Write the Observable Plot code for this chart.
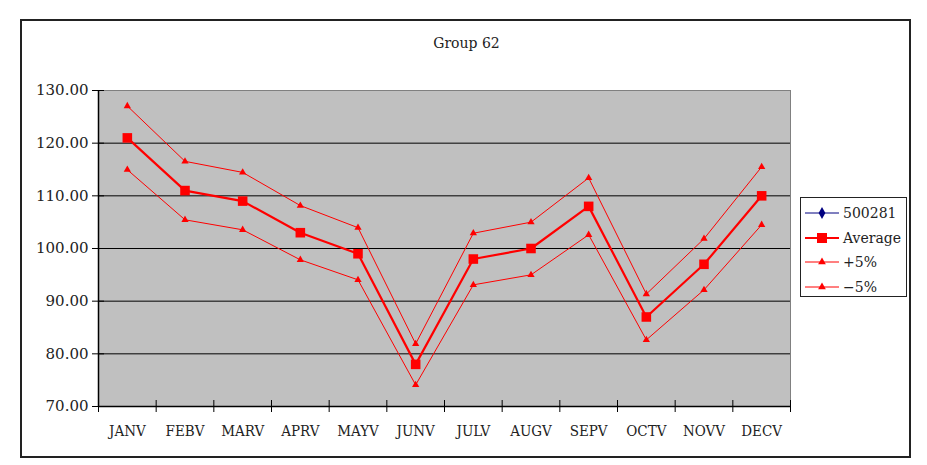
<!DOCTYPE html>
<html>
<head>
<meta charset="utf-8">
<script src="https://cdn.jsdelivr.net/npm/d3@7"></script>
<script src="https://cdn.jsdelivr.net/npm/@observablehq/plot@0.6"></script>
<style>
  body { margin: 0; background: #fff; }
  #wrap { position: relative; width: 927px; height: 465px; overflow: hidden; font-family: "DejaVu Serif", serif; color: #222; }
  #border { position: absolute; left: 20px; top: 19px; width: 887px; height: 435px; border: 2px solid #222; }
  #chart { position: absolute; left: 0; top: 0; }
  #title { position: absolute; left: 21px; width: 891px; top: 35px; text-align: center; font-size: 14px; }
  #legend { position: absolute; left: 800px; top: 197px; width: 105px; height: 98px; border: 1.5px solid #222; background: #fff; }
  .item { position: absolute; left: 4px; height: 20px; display: flex; align-items: center; font-size: 14px; white-space: nowrap; }
  .item svg { margin-right: 4px; }
  .xlab text { font-family: "DejaVu Serif Condensed", "DejaVu Serif", serif; font-stretch: condensed; }
</style>
</head>
<body>
<div id="wrap">
  <div id="border"></div>
  <div id="chart"></div>
  <div id="title"></div>
  <div id="legend"></div>
</div>
<script>
// ---- data ----
const title = "Group 62";
const months = ["JANV","FEBV","MARV","APRV","MAYV","JUNV","JULV","AUGV","SEPV","OCTV","NOVV","DECV"];
const s500281 = [];  // no visible values in the reference
const average = [121, 111, 109, 103, 99, 78, 98, 100, 108, 87, 97, 110];
const plus5   = [127.05, 116.55, 114.45, 108.15, 103.95, 81.9, 102.9, 105, 113.4, 91.35, 101.85, 115.5];
const minus5  = [114.95, 105.45, 103.55, 97.85, 94.05, 74.1, 93.1, 95, 102.6, 82.65, 92.15, 104.5];
const yTicks = [70, 80, 90, 100, 110, 120, 130];
const gridValues = [80, 90, 100, 110, 120];
const seriesNames = ["500281", "Average", "+5%", "\u22125%"];

// ---- build table ----
const toRows = (vals, name) => vals.map((v, i) => ({i, month: months[i], v, series: name}));
const rowsAvg = toRows(average, "Average");
const rowsPlus = toRows(plus5, "+5%");
const rowsMinus = toRows(minus5, "-5%");
const rows500 = toRows(s500281, "500281");
const boundaries = months.map((m, i) => i - 0.5).concat([months.length - 0.5]);
const centers = months.map((m, i) => i);

const red = "#ff0000";

const chart = Plot.plot({
  width: 927,
  height: 465,
  marginLeft: 98,
  marginRight: 137,
  marginTop: 90,
  marginBottom: 59,
  style: { fontFamily: "DejaVu Serif", fontSize: "15px", background: "transparent", color: "#222" },
  x: { type: "linear", domain: [-0.5, months.length - 0.5], label: null },
  y: { domain: [70, 130], label: null },
  marks: [
    Plot.frame({ fill: "#c0c0c0", stroke: "#808080" }),
    Plot.ruleY(gridValues, { stroke: "#000", strokeWidth: 1 }),
    Plot.ruleX([-0.5], { stroke: "#000", strokeWidth: 1.5 }),
    Plot.ruleY([70], { stroke: "#000", strokeWidth: 1.5 }),
    // crossing y ticks
    Plot.axisY({ ticks: yTicks, tickSize: 12, dx: 6, tickFormat: () => "", label: null, stroke: "#000" }),
    Plot.axisY({ ticks: yTicks, tickSize: 0, tickPadding: 10, tickFormat: d => d.toFixed(2), label: null, fontSize: 15 }),
    // crossing x ticks at category boundaries
    Plot.axisX({ ticks: boundaries, tickSize: 12, dy: -6, tickFormat: () => "", label: null, stroke: "#000" }),
    Plot.axisX({ ticks: centers, tickSize: 0, tickPadding: 19, tickFormat: i => months[i], label: null, fontSize: 15, className: "xlab" }),
    // series
    Plot.line(rows500, { x: "i", y: "v", stroke: "#000080", strokeWidth: 1 }),
    Plot.dot(rows500, { x: "i", y: "v", symbol: "diamond", r: 3, fill: "#000080" }),
    Plot.line(rowsPlus, { x: "i", y: "v", stroke: red, strokeWidth: 1 }),
    Plot.line(rowsMinus, { x: "i", y: "v", stroke: red, strokeWidth: 1 }),
    Plot.line(rowsAvg, { x: "i", y: "v", stroke: red, strokeWidth: 2.2 }),
    Plot.dot(rowsPlus, { x: "i", y: "v", symbol: "triangle", r: 2.7, fill: red }),
    Plot.dot(rowsMinus, { x: "i", y: "v", symbol: "triangle", r: 2.7, fill: red }),
    Plot.dot(rowsAvg, { x: "i", y: "v", symbol: "square", r: 5.4, fill: red })
  ]
});
document.getElementById("chart").appendChild(chart);
document.getElementById("title").textContent = title;

// ---- legend ----
const legendDefs = [
  { name: seriesNames[0], color: "#000080", symbol: d3.symbolDiamond, size: 40, lw: 1 },
  { name: seriesNames[1], color: red, symbol: d3.symbolSquare, size: 100, lw: 2.2 },
  { name: seriesNames[2], color: red, symbol: d3.symbolTriangle, size: 26, lw: 1 },
  { name: seriesNames[3], color: red, symbol: d3.symbolTriangle, size: 26, lw: 1 }
];
const legendTops = [5, 30, 54, 79];
const legend = d3.select("#legend");
legendDefs.forEach((d, k) => {
  const item = legend.append("div").attr("class", "item").style("top", legendTops[k] + "px");
  const svg = item.append("svg").attr("width", 34).attr("height", 16);
  svg.append("line").attr("x1", 0).attr("x2", 34).attr("y1", 8).attr("y2", 8)
    .attr("stroke", d.color).attr("stroke-width", d.lw);
  svg.append("path").attr("d", d3.symbol(d.symbol, d.size)()).attr("transform", "translate(17,8)")
    .attr("fill", d.color);
  item.append("span").text(d.name);
});
</script>
</body>
</html>
